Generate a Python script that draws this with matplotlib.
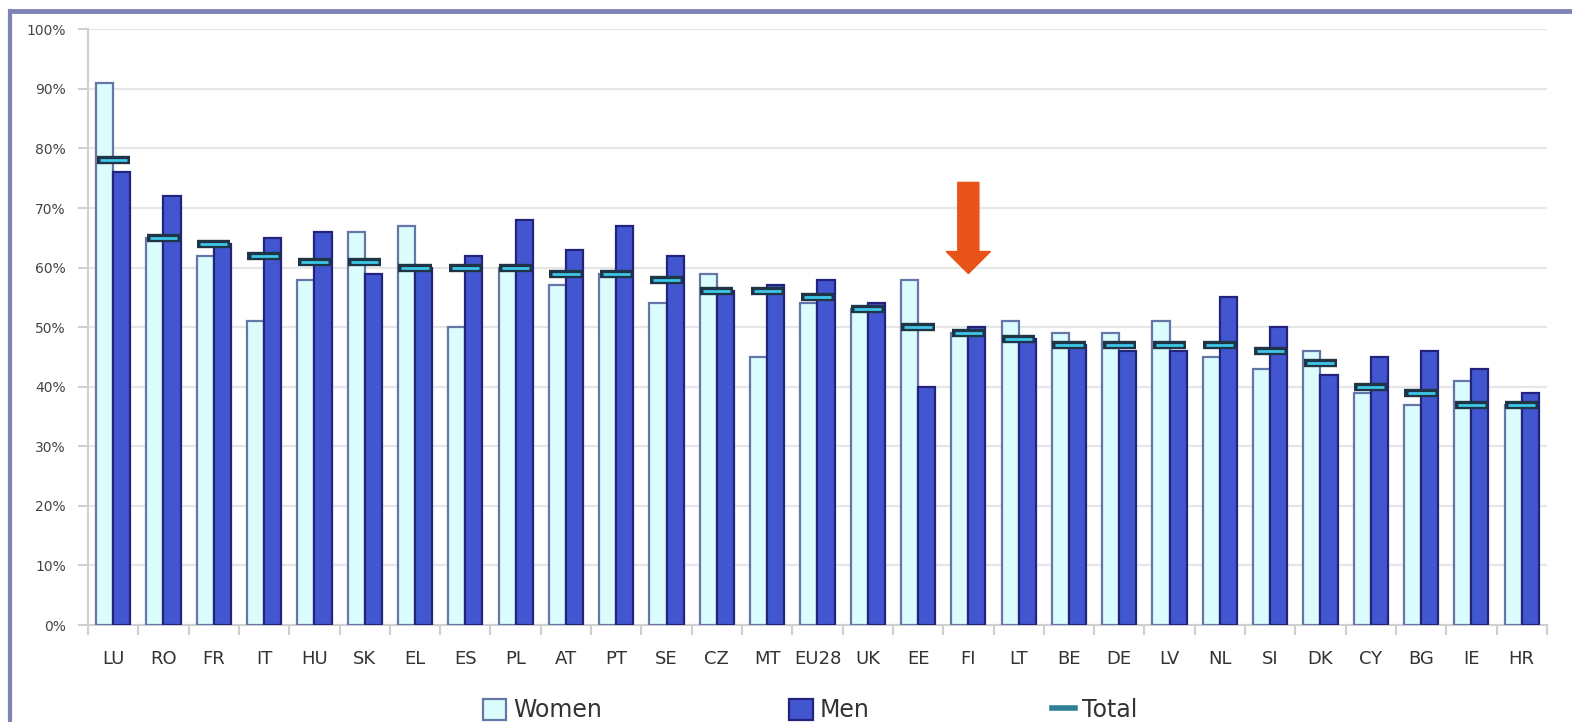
import matplotlib
matplotlib.use("Agg")
from matplotlib import pyplot as plt
from matplotlib.lines import Line2D
from matplotlib.patches import Patch
import numpy as np

countries = ["LU", "RO", "FR", "IT", "HU", "SK", "EL", "ES", "PL", "AT", "PT", "SE", "CZ", "MT",
             "EU28", "UK", "EE", "FI", "LT", "BE", "DE", "LV", "NL", "SI", "DK", "CY", "BG", "IE", "HR"]
women = [91, 65, 62, 51, 58, 66, 67, 50, 60, 57, 59, 54, 59, 45,
         54, 53, 58, 49, 51, 49, 49, 51, 45, 43, 46, 39, 37, 41, 37]
men = [76, 72, 64, 65, 66, 59, 60, 62, 68, 63, 67, 62, 56, 57,
       58, 54, 40, 50, 48, 47, 46, 46, 55, 50, 42, 45, 46, 43, 39]
total = [78, 65, 64, 62, 61, 61, 60, 60, 60, 59, 59, 58, 56, 56,
         55, 53, 50, 49, 48, 47, 47, 47, 47, 46, 44, 40, 39, 37, 37]

W_FILL, W_EDGE = "#DAFCFC", "#6676A8"
M_FILL, M_EDGE = "#4257CF", "#23237E"
T_DARK, T_LIGHT = "#1F3444", "#3EC6E8"
GRID = "#E6E6E6"

fig = plt.figure(figsize=(15.72, 7.22), dpi=100)
ax = fig.add_axes([0.056, 0.1343, 0.928, 0.8251])

x = np.arange(len(countries))
bw = 0.34
ax.bar(x - bw / 2, women, bw, color=W_FILL, edgecolor=W_EDGE, linewidth=1.6, zorder=3)
ax.bar(x + bw / 2, men, bw, color=M_FILL, edgecolor=M_EDGE, linewidth=1.6, zorder=3)
ax.hlines(total, x - 0.33, x + 0.33, color=T_DARK, linewidth=6, zorder=4)
ax.hlines(total, x - 0.27, x + 0.27, color=T_LIGHT, linewidth=2, zorder=5)

# arrow pointing at FI
fi = countries.index("FI")
ax.arrow(fi, 74.3, 0, -15.3, width=0.42, head_width=0.88, head_length=3.7,
         length_includes_head=True, color="#E8531A", zorder=6)

ax.set_xlim(-0.5, len(countries) - 0.5)
ax.set_ylim(0, 100)
ax.set_yticks(np.arange(0, 101, 10))
ax.set_yticklabels(["%d%%" % v for v in range(0, 101, 10)], fontsize=10, color="#444444")
ax.set_xticks(x)
ax.set_xticklabels(countries, fontsize=13, color="#333333")
ax.set_xticks(np.arange(-0.5, len(countries), 1), minor=True)
ax.tick_params(axis="x", which="major", length=0, pad=18)
ax.tick_params(axis="x", which="minor", length=7, width=1.5, color="#D0D0D0")
ax.tick_params(axis="y", length=7, width=1.5, color="#D0D0D0", pad=9)

ax.grid(axis="y", color=GRID, linewidth=1.6, zorder=0)
for s in ["top", "right"]:
    ax.spines[s].set_visible(False)
for s in ["left", "bottom"]:
    ax.spines[s].set_color("#D0D0D0")
    ax.spines[s].set_linewidth(1.5)

# legend, three pieces spaced like the original
items = [
    (Patch(facecolor=W_FILL, edgecolor=W_EDGE, linewidth=1.6), "Women", 0.307),
    (Patch(facecolor=M_FILL, edgecolor=M_EDGE, linewidth=1.6), "Men", 0.502),
    (Line2D([0], [0], color="#2F7F96", linewidth=4), "Total", 0.669),
]
for h, lab, xpos in items:
    fig.legend([h], [lab], loc="center left", bbox_to_anchor=(xpos, 0.016), frameon=False,
               fontsize=17, handlelength=1.0, handleheight=1.0, handletextpad=0.3,
               borderpad=0, borderaxespad=0, labelcolor="#333333")

# outer frame
fc = "#8084B4"
fig.add_artist(Line2D([10 / 1572, 1.0], [1 - 11 / 722, 1 - 11 / 722], color=fc, linewidth=3.5,
                      transform=fig.transFigure))
fig.add_artist(Line2D([10 / 1572, 10 / 1572], [0, 1 - 11 / 722], color=fc, linewidth=3,
                      transform=fig.transFigure))

plt.savefig("out.png", dpi=100)
